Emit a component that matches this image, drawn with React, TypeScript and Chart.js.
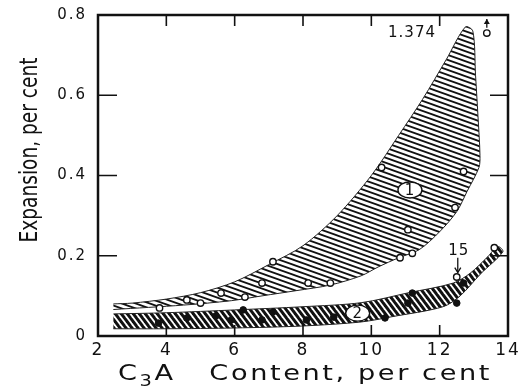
import React, { useEffect, useRef } from 'react';
import { Chart, registerables } from 'chart.js';

Chart.register(...registerables);

// ---- data ----
const xTickValues = [2, 4, 6, 8, 10, 12, 14];
const yTickValues = [0, 0.2, 0.4, 0.6, 0.8];

// Band 1 outline (upper edge left->right, then lower edge right->left)
const band1X = [2.45, 3, 4, 5, 6, 7, 8, 9, 10, 10.8, 11.5, 12.2, 12.75, 12.97, 13.05, 13.12, 13.18, 13.15, 12.8, 12.5, 12, 11.4, 10.8, 10.2, 9.7, 8.8, 7.8, 6.8, 5.9, 4.5, 2.45];
const band1Y = [0.08, 0.082, 0.092, 0.108, 0.135, 0.178, 0.225, 0.3, 0.4, 0.5, 0.59, 0.69, 0.77, 0.76, 0.65, 0.55, 0.45, 0.42, 0.36, 0.31, 0.26, 0.215, 0.195, 0.172, 0.15, 0.127, 0.113, 0.1, 0.088, 0.077, 0.066];

// Band 2 outline
const band2X = [2.45, 4, 6, 8, 9.7, 11.1, 12.4, 12.9, 13.4, 13.7, 13.85, 13.2, 12.6, 12.1, 10.6, 9.7, 8, 6, 4, 2.45];
const band2Y = [0.055, 0.058, 0.065, 0.073, 0.083, 0.108, 0.132, 0.157, 0.197, 0.223, 0.21, 0.155, 0.1, 0.073, 0.048, 0.035, 0.025, 0.02, 0.018, 0.018];

// Open circles (series 1)
const openX = [3.8, 4.6, 5.0, 5.6, 6.3, 6.8, 7.12, 8.15, 8.8, 10.3, 11.07, 10.84, 11.2, 12.45, 12.7, 12.5, 13.6, 13.38];
const openY = [0.07, 0.09, 0.082, 0.107, 0.097, 0.132, 0.185, 0.132, 0.132, 0.42, 0.265, 0.195, 0.206, 0.32, 0.41, 0.147, 0.22, 0.755];

// Filled dots (series 2)
const filledX = [3.77, 4.6, 5.45, 5.9, 6.25, 6.8, 7.12, 8.1, 8.9, 10.4, 11.07, 11.2, 12.5, 12.7];
const filledY = [0.032, 0.045, 0.05, 0.04, 0.065, 0.04, 0.06, 0.04, 0.047, 0.045, 0.082, 0.107, 0.082, 0.132];

// Circled curve labels
const curveLabels = ['1', '2'];
const curveLabelX = [11.13, 9.6];
const curveLabelY = [0.364, 0.057];

// Text notes
const noteTexts = ['1.374', '15'];
const noteX = [11.19, 12.56];
const noteY = [0.755, 0.212];

const xTitle = ['C', '3', 'A   Content, per cent'];
const yTitle = 'Expansion, per cent';

const toPts = (xs: number[], ys: number[]) => xs.map((x, i) => ({ x, y: ys[i] }));

function makeHatch(w: number, h: number, lw: number, color: string) {
  const c = document.createElement('canvas');
  c.width = w;
  c.height = h;
  const g = c.getContext('2d')!;
  g.fillStyle = '#ffffff';
  g.fillRect(0, 0, w, h);
  g.strokeStyle = color;
  g.lineWidth = lw;
  for (let k = -3; k <= 3; k++) {
    g.beginPath();
    g.moveTo(-w, -h + k * h);
    g.lineTo(2 * w, 2 * h + k * h);
    g.stroke();
  }
  return g.createPattern(c, 'repeat')!;
}

function drawFrame(chart: any) {
  const ctx = chart.ctx;
  const a = chart.chartArea;
  const xs = chart.scales.x;
  const ys = chart.scales.y;
  ctx.save();
  ctx.setLineDash([]);
  ctx.globalAlpha = 1;
  ctx.strokeStyle = '#111111';
  ctx.lineWidth = 2.5;
  ctx.beginPath();
  ctx.moveTo(a.left, a.top);
  ctx.lineTo(a.right, a.top);
  ctx.lineTo(a.right, a.bottom);
  ctx.lineTo(a.left, a.bottom);
  ctx.closePath();
  ctx.stroke();
  ctx.lineWidth = 1.6;
  ctx.beginPath();
  xTickValues.forEach((v) => {
    if (v <= 2 || v >= 14) return;
    const px = xs.getPixelForValue(v);
    ctx.moveTo(px, a.bottom);
    ctx.lineTo(px, a.bottom - 11);
    ctx.moveTo(px, a.top);
    ctx.lineTo(px, a.top + 11);
  });
  yTickValues.forEach((v) => {
    if (v <= 0 || v >= 0.8) return;
    const py = ys.getPixelForValue(v);
    ctx.moveTo(a.left, py);
    ctx.lineTo(a.left + 19, py);
    ctx.moveTo(a.right, py);
    ctx.lineTo(a.right - 18, py);
  });
  ctx.stroke();
  ctx.restore();
}

const decor = {
  id: 'decor',
  beforeDraw(chart: any) {
    chart.ctx.letterSpacing = '2px';
  },
  afterDatasetsDraw(chart: any) {
    const ctx = chart.ctx;
    const xs = chart.scales.x;
    const ys = chart.scales.y;
    ctx.save();
    ctx.letterSpacing = '1px';
    // circled labels
    curveLabels.forEach((t, i) => {
      const cx = xs.getPixelForValue(curveLabelX[i]);
      const cy = ys.getPixelForValue(curveLabelY[i]);
      ctx.beginPath();
      ctx.ellipse(cx, cy, 12, 8, 0, 0, Math.PI * 2);
      ctx.fillStyle = '#fff';
      ctx.fill();
      ctx.lineWidth = 1.4;
      ctx.strokeStyle = '#111';
      ctx.stroke();
      ctx.fillStyle = '#111';
      ctx.font = '15px "DejaVu Sans", sans-serif';
      ctx.textAlign = 'center';
      ctx.textBaseline = 'middle';
      ctx.fillText(t, cx, cy + 1);
    });
    // notes
    noteTexts.forEach((t, i) => {
      const cx = xs.getPixelForValue(noteX[i]);
      const cy = ys.getPixelForValue(noteY[i]);
      ctx.fillStyle = '#111';
      ctx.font = '15px "DejaVu Sans", sans-serif';
      ctx.textAlign = 'center';
      ctx.textBaseline = 'middle';
      ctx.fillText(t, cx, cy);
    });
    // arrow under "15"
    const ax = xs.getPixelForValue(12.53);
    const ay1 = ys.getPixelForValue(0.195);
    const ay2 = ys.getPixelForValue(0.158);
    ctx.strokeStyle = '#111';
    ctx.lineWidth = 1.3;
    ctx.beginPath();
    ctx.moveTo(ax, ay1);
    ctx.lineTo(ax, ay2);
    ctx.stroke();
    ctx.beginPath();
    ctx.moveTo(ax - 3, ay2 - 5);
    ctx.lineTo(ax, ay2);
    ctx.lineTo(ax + 3, ay2 - 5);
    ctx.stroke();
    // up arrow for off-scale point
    const bx = xs.getPixelForValue(13.38);
    const by1 = ys.getPixelForValue(0.768);
    const by2 = ys.getPixelForValue(0.79);
    ctx.beginPath();
    ctx.moveTo(bx, by1);
    ctx.lineTo(bx, by2);
    ctx.stroke();
    ctx.beginPath();
    ctx.moveTo(bx - 3, by2 + 5);
    ctx.lineTo(bx, by2);
    ctx.lineTo(bx + 3, by2 + 5);
    ctx.closePath();
    ctx.fillStyle = '#111';
    ctx.fill();
    ctx.restore();
    drawFrame(chart);
  },
  afterDraw(chart: any) {
    const ctx = chart.ctx;
    ctx.save();
    ctx.fillStyle = '#111';
    // y title
    ctx.save();
    ctx.letterSpacing = '0px';
    ctx.translate(30, 150);
    ctx.rotate(-Math.PI / 2);
    ctx.font = '25px "Liberation Sans Narrow", "DejaVu Sans Condensed", sans-serif';
    ctx.textAlign = 'center';
    ctx.textBaseline = 'middle';
    const wy = ctx.measureText(yTitle).width;
    ctx.scale(185 / wy, 1);
    ctx.fillText(yTitle, 0, 0);
    ctx.restore();
    // x title with subscript
    ctx.save();
    ctx.letterSpacing = '2px';
    ctx.textBaseline = 'middle';
    ctx.textAlign = 'left';
    const mainFont = '21px "DejaVu Sans", sans-serif';
    const subFont = '15px "DejaVu Sans", sans-serif';
    ctx.font = mainFont;
    const w0 = ctx.measureText(xTitle[0]).width;
    const w2 = ctx.measureText(xTitle[2]).width;
    ctx.font = subFont;
    const w1 = ctx.measureText(xTitle[1]).width;
    const total = w0 + w1 + w2;
    const target = 374;
    ctx.translate(118, 375);
    ctx.scale(target / total, 1);
    ctx.font = mainFont;
    ctx.fillText(xTitle[0], 0, 0);
    ctx.font = subFont;
    ctx.fillText(xTitle[1], w0, 7);
    ctx.font = mainFont;
    ctx.fillText(xTitle[2], w0 + w1, 0);
    ctx.restore();
    ctx.restore();
  },
};

export default function App() {
  const ref = useRef<HTMLCanvasElement | null>(null);
  useEffect(() => {
    document.body.style.margin = '0';
    const canvas = ref.current!;
    const hatch1 = makeHatch(14, 5, 1.8, '#111111');
    const hatch2 = makeHatch(6, 8, 3, '#111111');
    const chart = new Chart(canvas, {
      type: 'scatter',
      data: {
        datasets: [
          {
            type: 'scatter',
            label: 'open',
            data: toPts(openX, openY),
            pointStyle: 'circle',
            pointRadius: 3.2,
            pointBackgroundColor: '#ffffff',
            pointBorderColor: '#111',
            pointBorderWidth: 1.4,
            order: 0,
          } as any,
          {
            type: 'scatter',
            label: 'filled',
            data: toPts(filledX, filledY),
            pointStyle: 'circle',
            pointRadius: 3.3,
            pointBackgroundColor: '#111',
            pointBorderColor: '#111',
            pointBorderWidth: 1,
            order: 0,
          } as any,
          {
            type: 'line',
            label: 'band1',
            data: toPts(band1X, band1Y),
            fill: 'shape',
            backgroundColor: hatch1,
            borderColor: '#222',
            borderWidth: 1,
            pointRadius: 0,
            tension: 0.3,
            order: 1,
          } as any,
          {
            type: 'line',
            label: 'band2',
            data: toPts(band2X, band2Y),
            fill: 'shape',
            backgroundColor: hatch2,
            borderColor: '#222',
            borderWidth: 1,
            pointRadius: 0,
            tension: 0.3,
            order: 1,
          } as any,
        ],
      },
      options: {
        animation: false,
        responsive: false,
        devicePixelRatio: 1,
        layout: { padding: { left: 0, right: 13, top: 15, bottom: 0 } },
        plugins: { legend: { display: false }, tooltip: { enabled: false } },
        scales: {
          x: {
            type: 'linear',
            min: 2,
            max: 14,
            afterBuildTicks: (s: any) => {
              s.ticks = xTickValues.map((v) => ({ value: v }));
            },
            afterFit: (s: any) => {
              s.height = 55;
              s.paddingLeft = 0;
              s.paddingRight = 0;
            },
            grid: { display: false, drawTicks: false },
            border: { display: false },
            ticks: {
              autoSkip: false,
              maxRotation: 0,
              padding: 4,
              color: '#111',
              font: { family: '"DejaVu Sans", sans-serif', size: 17 },
            },
          },
          y: {
            type: 'linear',
            min: 0,
            max: 0.8,
            afterBuildTicks: (s: any) => {
              s.ticks = yTickValues.map((v) => ({ value: v }));
            },
            afterFit: (s: any) => {
              s.width = 98;
              s.paddingTop = 0;
              s.paddingBottom = 0;
            },
            grid: { display: false, drawTicks: false },
            border: { display: false },
            ticks: {
              padding: 11,
              color: '#111',
              font: { family: '"DejaVu Sans", sans-serif', size: 15 },
              callback: (v: any) => (v === 0 ? '0' : Number(v).toFixed(1)),
            },
          },
        },
      },
      plugins: [decor],
    });
    return () => chart.destroy();
  }, []);
  return (
    <div style={{ position: 'fixed', left: 0, top: 0, width: 521, height: 391, background: '#fff' }}>
      <canvas ref={ref} width={521} height={391} style={{ width: 521, height: 391, display: 'block' }} />
    </div>
  );
}
